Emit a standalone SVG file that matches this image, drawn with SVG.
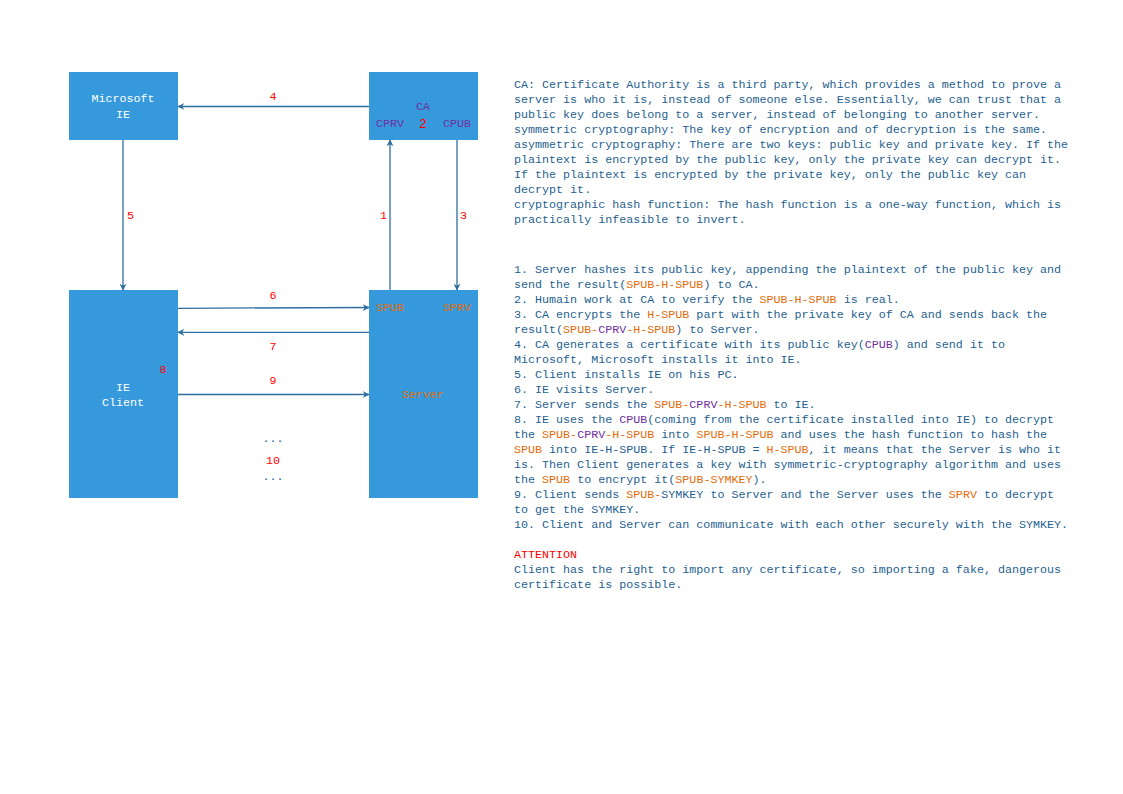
<svg xmlns="http://www.w3.org/2000/svg" width="1123" height="794" viewBox="0 0 1123 794">
<style>
.box{fill:#3599DB}
.t{font-family:"Liberation Mono","DejaVu Sans Mono",monospace;font-size:11.7px}
.c{text-anchor:middle}
.w{fill:#FFFFFF}
.pu{fill:#7030A0}
.or{fill:#E36C0A}
.rd{fill:#FF0000}
.bl{fill:#1F5F8F}
.ln{stroke:#2F6FA0;stroke-width:1.3;fill:none}
</style>
<defs>
<marker id="ah" viewBox="0 0 10 10" refX="9" refY="5" markerWidth="7" markerHeight="7" markerUnits="userSpaceOnUse" orient="auto">
<path d="M0,0 L10,5 L0,10 L3,5 Z" fill="#2F6FA0"/>
</marker>
</defs>
<rect width="1123" height="794" fill="#FFFFFF"/>

<g id="microsoft-ie">
<rect class="box" x="69" y="72" width="109" height="68"/>
<text class="t c w" x="123" y="102">Microsoft</text>
<text class="t c w" x="123" y="118">IE</text>
</g>

<g id="ca">
<rect class="box" x="369" y="72" width="109" height="68"/>
<text class="t c pu" x="423" y="110">CA</text>
<text class="t c pu" x="390" y="127">CPRV</text>
<text class="t c rd" x="423" y="128" style="font-size:13px">2</text>
<text class="t c pu" x="457" y="127">CPUB</text>
</g>

<g id="ie-client">
<rect class="box" x="69" y="290" width="109" height="208"/>
<text class="t c w" x="123" y="391">IE</text>
<text class="t c w" x="123" y="406">Client</text>
</g>

<g id="server">
<rect class="box" x="369" y="290" width="109" height="208"/>
<text class="t c or" x="390" y="311">SPUB</text>
<text class="t c or" x="457" y="311">SPRV</text>
<text class="t c or" x="423" y="398">Server</text>
</g>

<g id="connectors">
<line class="ln" x1="369" y1="106.5" x2="178" y2="106.5" marker-end="url(#ah)"/>
<line class="ln" x1="123" y1="140" x2="123" y2="290" marker-end="url(#ah)"/>
<line class="ln" x1="390" y1="290" x2="390" y2="140" marker-end="url(#ah)"/>
<line class="ln" x1="457" y1="140" x2="457" y2="290" marker-end="url(#ah)"/>
<line class="ln" x1="178" y1="308.3" x2="369" y2="307.5" marker-end="url(#ah)"/>
<line class="ln" x1="369" y1="332.3" x2="178" y2="332.3" marker-end="url(#ah)"/>
<line class="ln" x1="178" y1="394.5" x2="369" y2="394.5" marker-end="url(#ah)"/>
<text class="t c rd" x="273" y="100">4</text>
<text class="t rd" x="127" y="219">5</text>
<text class="t rd" x="380" y="219">1</text>
<text class="t rd" x="460" y="219">3</text>
<text class="t c rd" x="273" y="299">6</text>
<text class="t c rd" x="273" y="350">7</text>
<text class="t c rd" x="163" y="373">8</text>
<text class="t c rd" x="273" y="384">9</text>
<text class="t c bl" x="273" y="442">...</text>
<text class="t c rd" x="273" y="464">10</text>
<text class="t c bl" x="273" y="480">...</text>
</g>

<g id="definitions">
<text class="t bl" x="514" y="88">
<tspan x="514" y="88">CA: Certificate Authority is a third party, which provides a method to prove a</tspan>
<tspan x="514" dy="15">server is who it is, instead of someone else. Essentially, we can trust that a</tspan>
<tspan x="514" dy="15">public key does belong to a server, instead of belonging to another server.</tspan>
<tspan x="514" dy="15">symmetric cryptography: The key of encryption and of decryption is the same.</tspan>
<tspan x="514" dy="15">asymmetric cryptography: There are two keys: public key and private key. If the</tspan>
<tspan x="514" dy="15">plaintext is encrypted by the public key, only the private key can decrypt it.</tspan>
<tspan x="514" dy="15">If the plaintext is encrypted by the private key, only the public key can</tspan>
<tspan x="514" dy="15">decrypt it.</tspan>
<tspan x="514" dy="15">cryptographic hash function: The hash function is a one-way function, which is</tspan>
<tspan x="514" dy="15">practically infeasible to invert.</tspan>
</text>
</g>

<g id="steps">
<text class="t bl" x="514" y="273">
<tspan x="514" y="273">1. Server hashes its public key, appending the plaintext of the public key and</tspan>
<tspan x="514" dy="15">send the result(<tspan class="or">SPUB-H-SPUB</tspan>) to CA.</tspan>
<tspan x="514" dy="15">2. Humain work at CA to verify the <tspan class="or">SPUB-H-SPUB</tspan> is real.</tspan>
<tspan x="514" dy="15">3. CA encrypts the <tspan class="or">H-SPUB</tspan> part with the private key of CA and sends back the</tspan>
<tspan x="514" dy="15">result(<tspan class="or">SPUB-</tspan><tspan class="pu">CPRV</tspan><tspan class="or">-H-SPUB</tspan>) to Server.</tspan>
<tspan x="514" dy="15">4. CA generates a certificate with its public key(<tspan class="pu">CPUB</tspan>) and send it to</tspan>
<tspan x="514" dy="15">Microsoft, Microsoft installs it into IE.</tspan>
<tspan x="514" dy="15">5. Client installs IE on his PC.</tspan>
<tspan x="514" dy="15">6. IE visits Server.</tspan>
<tspan x="514" dy="15">7. Server sends the <tspan class="or">SPUB-</tspan><tspan class="pu">CPRV</tspan><tspan class="or">-H-SPUB</tspan> to IE.</tspan>
<tspan x="514" dy="15">8. IE uses the <tspan class="pu">CPUB</tspan>(coming from the certificate installed into IE) to decrypt</tspan>
<tspan x="514" dy="15">the <tspan class="or">SPUB-</tspan><tspan class="pu">CPRV</tspan><tspan class="or">-H-SPUB</tspan> into <tspan class="or">SPUB-H-SPUB</tspan> and uses the hash function to hash the</tspan>
<tspan x="514" dy="15"><tspan class="or">SPUB</tspan> into IE-H-SPUB. If IE-H-SPUB = <tspan class="or">H-SPUB</tspan>, it means that the Server is who it</tspan>
<tspan x="514" dy="15">is. Then Client generates a key with symmetric-cryptography algorithm and uses</tspan>
<tspan x="514" dy="15">the <tspan class="or">SPUB</tspan> to encrypt it(<tspan class="or">SPUB-SYMKEY</tspan>).</tspan>
<tspan x="514" dy="15">9. Client sends <tspan class="or">SPUB-</tspan>SYMKEY to Server and the Server uses the <tspan class="or">SPRV</tspan> to decrypt</tspan>
<tspan x="514" dy="15">to get the SYMKEY.</tspan>
<tspan x="514" dy="15">10. Client and Server can communicate with each other securely with the SYMKEY.</tspan>
<tspan x="514" dy="30" class="rd">ATTENTION</tspan>
<tspan x="514" dy="15">Client has the right to import any certificate, so importing a fake, dangerous</tspan>
<tspan x="514" dy="15">certificate is possible.</tspan>
</text>
</g>
</svg>
